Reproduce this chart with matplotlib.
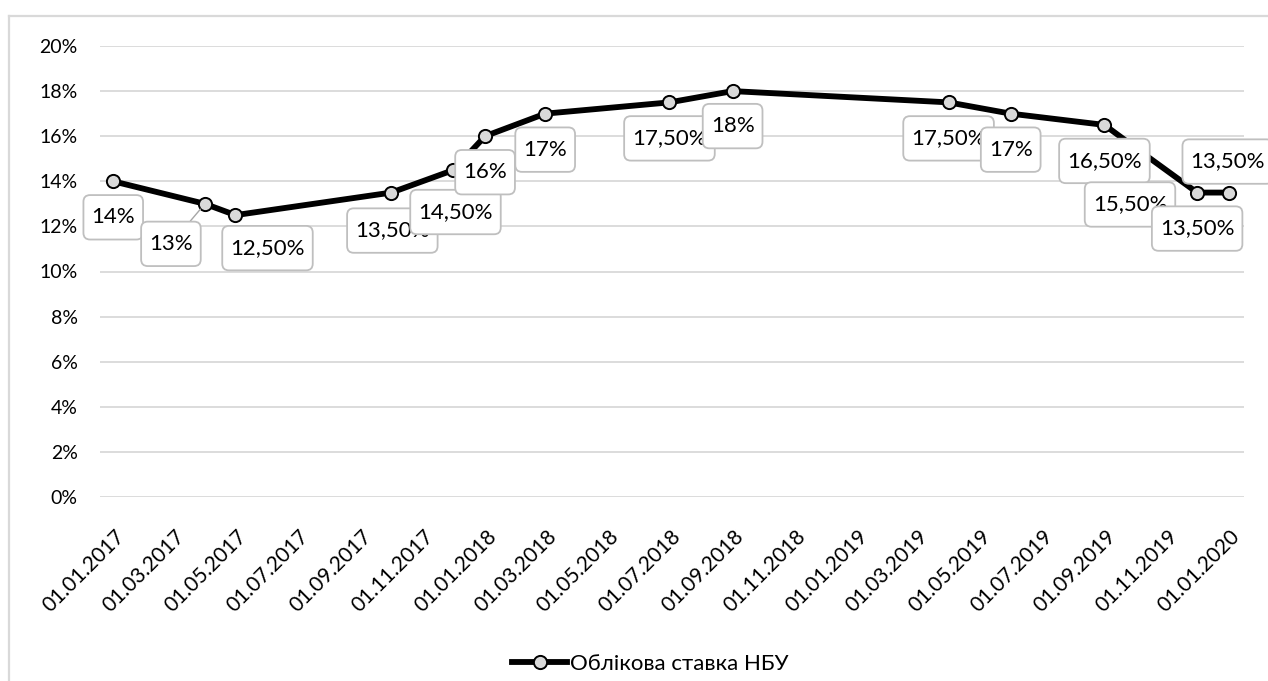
import matplotlib
matplotlib.use("Agg")
import matplotlib.pyplot as plt
import matplotlib.dates as mdates
from matplotlib.ticker import FuncFormatter, MultipleLocator
from matplotlib.transforms import ScaledTranslation
from matplotlib.patches import BoxStyle
from datetime import date, timedelta

# ---- data ----
dates = ["01.01.2017", "01.04.2017", "01.05.2017", "01.10.2017", "01.12.2017",
         "01.01.2018", "01.03.2018", "01.07.2018", "01.09.2018", "01.04.2019",
         "01.06.2019", "01.09.2019", "01.10.2019", "01.12.2019", "01.01.2020"]
rates = [14.0, 13.0, 12.5, 13.5, 14.5, 16.0, 17.0, 17.5, 18.0, 17.5,
         17.0, 16.5, 15.5, 13.5, 13.5]
labels = ["14%", "13%", "12,50%", "13,50%", "14,50%", "16%", "17%", "17,50%",
          "18%", "17,50%", "17%", "16,50%", "15,50%", "13,50%", "13,50%"]
series_name = "Облікова ставка НБУ"

# ---- style: label offsets in pixels (dx, dy; dy positive = down) ----
label_offsets = [(0, 36), (-34, 40), (32, 33), (1, 38), (2, 42), (0, 36), (0, 36),
                 (0, 36), (0, 35), (0, 36), (0, 36), (0, 36), (-5, 57), (0, 36), (-1, -31)]
leader = [False, True] + [False] * 13

plt.rcParams['font.family'] = ['Lato', 'DejaVu Sans']

W, H, DPI = 1268, 681, 100
fig = plt.figure(figsize=(W / DPI, H / DPI), dpi=DPI)
fig.patch.set_facecolor("white")

# chart-area border (only left and top visible)
fig.add_artist(plt.Line2D([8.5 / W, 8.5 / W], [0, 1 - 16 / H], transform=fig.transFigure,
                          color="#d9d9d9", lw=1.6))
fig.add_artist(plt.Line2D([8.5 / W, 1], [1 - 16 / H, 1 - 16 / H], transform=fig.transFigure,
                          color="#d9d9d9", lw=1.6))

ax_l, ax_r, ax_t, ax_b = 100, 1244, 46, 497
ax = fig.add_axes([ax_l / W, 1 - ax_b / H, (ax_r - ax_l) / W, (ax_b - ax_t) / H])

x = [date(int(d[6:]), int(d[3:5]), int(d[:2])) for d in dates]
y = [r / 100 for r in rates]

ax.plot(x, y, color="black", lw=4.2, marker="o", markersize=9.5,
        markerfacecolor="#d9d9d9", markeredgecolor="black", markeredgewidth=1.4,
        zorder=3, label=series_name, solid_joinstyle="round")

ax.set_xlim(x[0] - timedelta(days=13), x[-1] + timedelta(days=15))
ax.set_ylim(0, 0.20)
ax.yaxis.set_major_locator(MultipleLocator(0.02))
ax.yaxis.set_major_formatter(FuncFormatter(lambda v, p: f"{v * 100:.0f}%"))
ax.xaxis.set_major_locator(mdates.MonthLocator(bymonth=[1, 3, 5, 7, 9, 11]))
ax.xaxis.set_major_formatter(mdates.DateFormatter("%d.%m.%Y"))

ax.grid(axis="y", color="#d9d9d9", lw=1.3, zorder=0)
ax.set_axisbelow(True)
for s in ax.spines.values():
    s.set_visible(False)
ax.tick_params(axis="y", length=0, labelsize=14, colors="black", pad=16)
ax.tick_params(axis="x", length=0, labelsize=15, colors="black", pad=4)
for lab in ax.get_xticklabels():
    lab.set_rotation(45)
    lab.set_ha("right")
    lab.set_va("top")
    lab.set_rotation_mode("anchor")
    lab.set_transform(lab.get_transform() + ScaledTranslation(1 / DPI, -24 / DPI, fig.dpi_scale_trans))


_round = BoxStyle.Round(pad=0, rounding_size=0.3)


def label_box(x0, y0, width, height, mutation_size):
    px = 0.36 * mutation_size
    py = 0.55 * mutation_size
    return _round(x0 - px, y0 - py, width + 2 * px, height + 2 * py, mutation_size)


for xi, yi, lab, (dx, dy), ld in zip(x, y, labels, label_offsets, leader):
    kw = {}
    if ld:
        kw["arrowprops"] = dict(arrowstyle="-", color="#a6a6a6", lw=1.0, shrinkA=0, shrinkB=5)
    ax.annotate(lab, xy=(xi, yi), xytext=(dx, -dy), textcoords="offset pixels",
                ha="center", va="center", fontsize=16, color="black", zorder=5,
                bbox=dict(boxstyle=label_box, fc="white", ec="#bfbfbf", lw=1.3),
                annotation_clip=False, **kw)

leg = fig.legend(loc="center", bbox_to_anchor=(650 / W, 1 - 664 / H), frameon=False,
                 fontsize=16, handlelength=2.5, handletextpad=0.1)

fig.savefig("out.png", dpi=DPI, facecolor="white")
